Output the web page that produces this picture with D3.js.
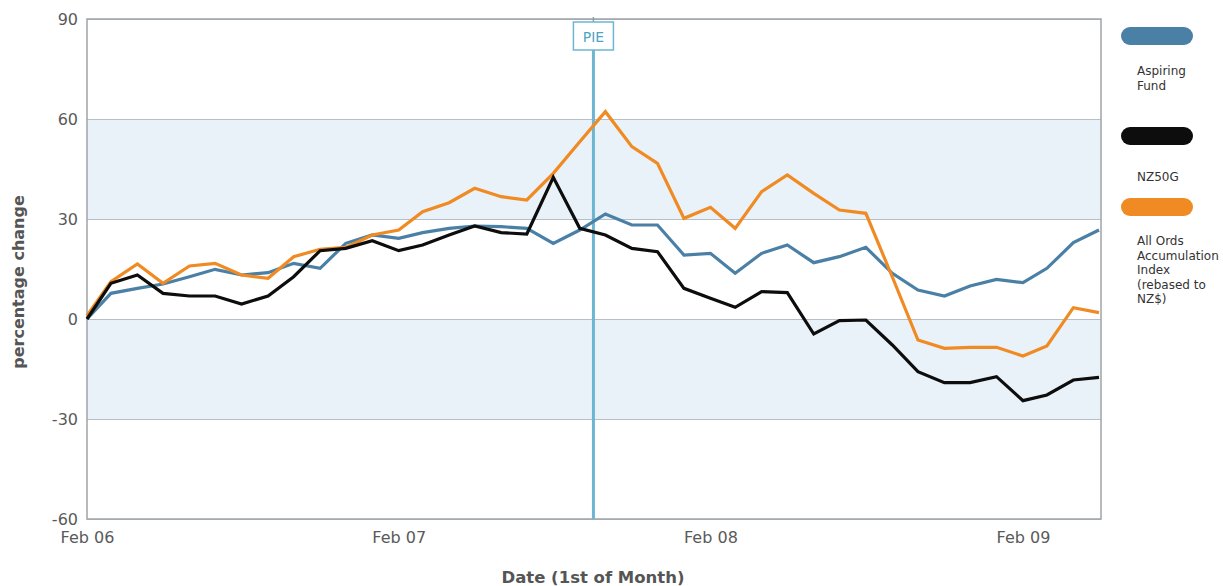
<!DOCTYPE html>
<html>
<head>
<meta charset="utf-8">
<script src="https://cdn.jsdelivr.net/npm/d3@7"></script>
<style>
  body { margin: 0; background: #fff; }
  text { font-family: "DejaVu Sans", Verdana, sans-serif; }
</style>
</head>
<body>
<div id="chart"></div>
<script>
// months (1st of month)
var months = ["2006-02","2006-03","2006-04","2006-05","2006-06","2006-07","2006-08","2006-09","2006-10","2006-11",
  "2006-12","2007-01","2007-02","2007-03","2007-04","2007-05","2007-06","2007-07","2007-08","2007-09",
  "2007-10","2007-11","2007-12","2008-01","2008-02","2008-03","2008-04","2008-05","2008-06","2008-07",
  "2008-08","2008-09","2008-10","2008-11","2008-12","2009-01","2009-02","2009-03","2009-04","2009-05"];

var aspiring = [0, 7.7, 9.2, 10.5, 12.7, 14.9, 13.2, 13.9, 16.7, 15.2,
  22.7, 25.2, 24.2, 25.9, 27.2, 27.9, 27.7, 27.2, 22.7, 26.7,
  31.5, 28.2, 28.2, 19.2, 19.7, 13.7, 19.7, 22.2, 16.9, 18.7,
  21.5, 13.7, 8.7, 6.9, 9.9, 11.9, 10.9, 15.2, 22.9, 26.7];

var nz50g = [0, 10.7, 13.2, 7.7, 6.9, 6.9, 4.5, 6.9, 12.7, 20.5,
  21.2, 23.5, 20.5, 22.2, 25.2, 27.9, 25.9, 25.5, 42.5, 27.2,
  25.2, 21.2, 20.2, 9.2, 6.2, 3.5, 8.2, 7.9, -4.5, -0.5,
  -0.3, -7.8, -15.8, -19.1, -19.1, -17.3, -24.5, -22.8, -18.3, -17.5];

var allOrds = [1, 11.2, 16.5, 10.7, 15.9, 16.7, 13.2, 12.2, 18.7, 20.9,
  21.5, 25.2, 26.7, 32.2, 34.9, 39.2, 36.7, 35.7, 43.7, 53.2,
  62.2, 51.7, 46.7, 30.2, 33.5, 27.2, 38.2, 43.2, 37.7, 32.7,
  31.7, 12.6, -6.3, -8.8, -8.5, -8.5, -11.1, -8.1, 3.4, 1.9];

var yTicks = [90, 60, 30, 0, -30, -60];
var bands = [[30, 60], [-30, 0]];
var xTickDates = ["2006-02", "2007-02", "2008-02", "2009-02"];
var pieDate = "2007-09-17";

var legendLines = [["Aspiring", "Fund"], ["NZ50G"], ["All Ords", "Accumulation", "Index", "(rebased to", "NZ$)"]];
var colors = ["#4a80a6", "#0d0d0d", "#f08a22"];

var parseMonth = d3.timeParse("%Y-%m");
var parseDay = d3.timeParse("%Y-%m-%d");
var fmt = d3.timeFormat("%b %y");

var W = 1223, H = 586;
var plotL = 87, plotR = 1101, plotT = 19, plotB = 519;

var svg = d3.select("#chart").append("svg")
  .attr("width", W)
  .attr("height", H);

var x = d3.scaleTime()
  .domain([parseMonth(months[0]), parseMonth(months[months.length - 1])])
  .range([plotL, 1099]);

var y = d3.scaleLinear()
  .domain([-60, 90])
  .range([plotB, plotT]);

// light blue bands
svg.selectAll(".band")
  .data(bands)
  .enter().append("rect")
    .attr("x", plotL)
    .attr("width", plotR - plotL)
    .attr("y", function(d) { return y(d[1]); })
    .attr("height", function(d) { return y(d[0]) - y(d[1]); })
    .attr("fill", "#eaf2f9");

// grid lines + y labels (plain hyphen for negatives)
var yAxis = svg.append("g")
  .attr("transform", "translate(" + plotL + ",0)")
  .call(d3.axisLeft(y).tickValues(yTicks).tickSize(-(plotR - plotL)).tickPadding(9)
    .tickFormat(function(d) { return String(d); }));
yAxis.select(".domain").remove();
yAxis.selectAll(".tick line").attr("stroke", "#b7bec6");
yAxis.selectAll(".tick text")
  .attr("fill", "#5a5a5a")
  .style("font-size", "16px");

// frame
svg.append("rect")
  .attr("x", plotL).attr("y", plotT)
  .attr("width", plotR - plotL).attr("height", plotB - plotT)
  .attr("fill", "none")
  .attr("stroke", "#a0a4a8")
  .attr("stroke-width", 1.5);

// x axis labels
var xAxis = svg.append("g")
  .attr("transform", "translate(0," + plotB + ")")
  .call(d3.axisBottom(x).tickValues(xTickDates.map(parseMonth)).tickSize(0).tickPadding(13).tickFormat(fmt));
xAxis.select(".domain").remove();
xAxis.selectAll(".tick text")
  .attr("fill", "#5a5a5a")
  .style("font-size", "16px");

// PIE marker
var px = x(parseDay(pieDate));
svg.append("line")
  .attr("x1", px).attr("x2", px)
  .attr("y1", 50).attr("y2", plotB)
  .attr("stroke", "#6cb6d2")
  .attr("stroke-width", 3);
svg.append("line")
  .attr("x1", px).attr("x2", px)
  .attr("y1", 17).attr("y2", 22)
  .attr("stroke", "#8aa0aa")
  .attr("stroke-width", 1.5);
svg.append("rect")
  .attr("x", px - 20).attr("y", 22)
  .attr("width", 40).attr("height", 28)
  .attr("fill", "#fff")
  .attr("stroke", "#6cb6d2")
  .attr("stroke-width", 1.5);
svg.append("text")
  .attr("x", px).attr("y", 42)
  .attr("text-anchor", "middle")
  .attr("fill", "#4fa3c3")
  .style("font-size", "14px")
  .text("PIE");

// lines
var allSeries = [aspiring, nz50g, allOrds];
var line = d3.line()
  .x(function(d, i) { return x(parseMonth(months[i])); })
  .y(function(d) { return y(d); });

// draw order: blue, orange, black on top
[0, 2, 1].forEach(function(k) {
  svg.append("path")
    .datum(allSeries[k])
    .attr("fill", "none")
    .attr("stroke", colors[k])
    .attr("stroke-width", 3.2)
    .attr("d", line);
});

// legend
var swatchY = [27, 127, 198];
var textY = [75, 181, 245];
legendLines.forEach(function(lines, k) {
  svg.append("rect")
    .attr("x", 1121).attr("y", swatchY[k])
    .attr("width", 72).attr("height", 18)
    .attr("rx", 9)
    .attr("fill", colors[k]);
  var t = svg.append("text")
    .attr("x", 1137).attr("y", textY[k])
    .attr("fill", "#333")
    .style("font-size", "12px");
  lines.forEach(function(s, j) {
    t.append("tspan").attr("x", 1137).attr("y", textY[k] + j * 14.5).text(s);
  });
});

// axis titles
svg.append("text")
  .attr("transform", "translate(24,282) rotate(-90)")
  .attr("text-anchor", "middle")
  .attr("fill", "#555")
  .style("font-size", "16px")
  .style("font-weight", "bold")
  .text("percentage change");

svg.append("text")
  .attr("x", 593).attr("y", 583)
  .attr("text-anchor", "middle")
  .attr("fill", "#555")
  .style("font-size", "16.5px")
  .style("font-weight", "bold")
  .text("Date (1st of Month)");
</script>
</body>
</html>
